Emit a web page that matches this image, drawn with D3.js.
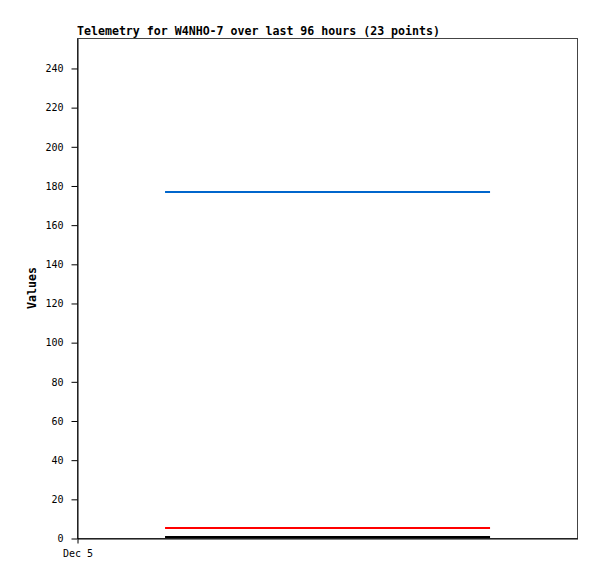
<!DOCTYPE html>
<html>
<head>
<meta charset="utf-8">
<script src="https://cdn.jsdelivr.net/npm/d3@7"></script>
<style>
  body { margin: 0; background: #fff; }
  text { font-family: "DejaVu Sans Mono", monospace; }
</style>
</head>
<body>
<div id="chart"></div>
<script>
// 23 telemetry samples on Dec 5 (hour of day)
const times = [4.05, 4.73, 5.41, 6.09, 6.77, 7.45, 8.13, 8.81, 9.49, 10.17, 10.85, 11.53,
  12.21, 12.89, 13.57, 14.25, 14.93, 15.61, 16.29, 16.97, 17.65, 18.33, 19.0];
const seriesBlue = [176.7, 176.7, 176.7, 176.7, 176.7, 176.7, 176.7, 176.7, 176.7, 176.7, 176.7, 176.7,
  176.7, 176.7, 176.7, 176.7, 176.7, 176.7, 176.7, 176.7, 176.7, 176.7, 176.7];
const seriesRed = [5.1, 5.1, 5.1, 5.1, 5.1, 5.1, 5.1, 5.1, 5.1, 5.1, 5.1, 5.1,
  5.1, 5.1, 5.1, 5.1, 5.1, 5.1, 5.1, 5.1, 5.1, 5.1, 5.1];
const seriesBlack = [0.5, 0.5, 0.5, 0.5, 0.5, 0.5, 0.5, 0.5, 0.5, 0.5, 0.5, 0.5,
  0.5, 0.5, 0.5, 0.5, 0.5, 0.5, 0.5, 0.5, 0.5, 0.5, 0.5];
const yTicks = [0, 20, 40, 60, 80, 100, 120, 140, 160, 180, 200, 220, 240];
const xTickLabels = ['Dec 5'];
const title = 'Telemetry for W4NHO-7 over last 96 hours (23 points)';

const width = 597, height = 579;
const margin = { top: 38, right: 20, bottom: 41, left: 77 };

const svg = d3.select('#chart').append('svg')
  .attr('width', width)
  .attr('height', height);

const x = d3.scaleLinear()
  .domain([0, 23])
  .range([margin.left, width - margin.right]);
const y = d3.scaleLinear()
  .domain([0, 255.3])
  .range([height - margin.bottom, margin.top]);

// frame
svg.append('rect')
  .attr('x', margin.left + 0.5)
  .attr('y', margin.top + 0.5)
  .attr('width', width - margin.left - margin.right)
  .attr('height', height - margin.top - margin.bottom)
  .attr('fill', 'none')
  .attr('stroke', '#444');

// y axis
const yAxis = svg.append('g')
  .attr('transform', 'translate(' + (margin.left + 0.5) + ',0.5)')
  .call(d3.axisLeft(y).tickValues(yTicks).tickSize(6).tickSizeOuter(0).tickPadding(8));
yAxis.select('.domain').attr('stroke', '#000');
yAxis.selectAll('text').attr('font-size', 10).attr('fill', '#000')
  .style('font-family', '"DejaVu Sans Mono", monospace');

// x axis
const xAxis = svg.append('g')
  .attr('transform', 'translate(0.5,' + (height - margin.bottom + 0.5) + ')')
  .call(d3.axisBottom(x).tickValues([0]).tickFormat((d, i) => xTickLabels[i])
    .tickSize(5).tickSizeOuter(0).tickPadding(6));
xAxis.select('.domain').attr('stroke', '#000');
xAxis.selectAll('text').attr('font-size', 10).attr('fill', '#000')
  .style('font-family', '"DejaVu Sans Mono", monospace');

// lines
const line = d3.line()
  .x((d, i) => x(times[i]))
  .y(d => y(d));

[[seriesBlack, '#000'], [seriesRed, '#ff0000'], [seriesBlue, '#0066cc']].forEach(([s, c]) => {
  svg.append('path')
    .datum(s)
    .attr('d', line)
    .attr('fill', 'none')
    .attr('stroke', c)
    .attr('stroke-width', 2);
});

// title
svg.append('text')
  .attr('x', margin.left)
  .attr('y', 35)
  .attr('font-size', 11.6)
  .attr('font-weight', 'bold')
  .text(title);

// y label
svg.append('text')
  .attr('transform', 'translate(36,' + (margin.top + (height - margin.top - margin.bottom) / 2) + ') rotate(-90)')
  .attr('text-anchor', 'middle')
  .attr('font-size', 11.6)
  .attr('font-weight', 'bold')
  .text('Values');
</script>
</body>
</html>
